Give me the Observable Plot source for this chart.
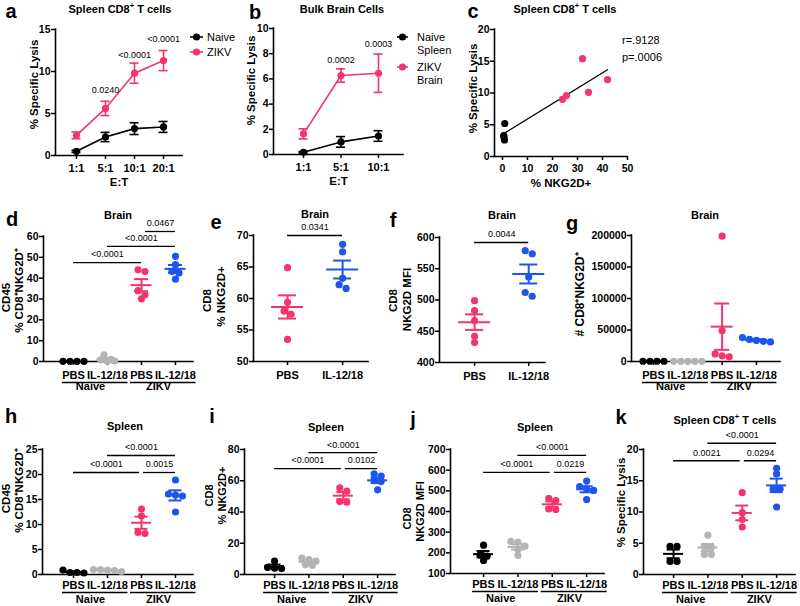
<!DOCTYPE html>
<html><head><meta charset="utf-8">
<script src="https://cdn.jsdelivr.net/npm/d3@7"></script>
<script src="https://cdn.jsdelivr.net/npm/@observablehq/plot@0.6"></script>
<style>
body{margin:0;background:#fff;}
#root{position:relative;width:800px;height:606px;overflow:hidden;font-family:'Liberation Sans',Arial,sans-serif;background:#fff;}
.t{position:absolute;font-weight:bold;font-size:11px;white-space:nowrap;transform:translate(-50%,-50%);line-height:1;}
.t sup{font-size:0.7em;line-height:0;vertical-align:0.55em;}
.L{position:absolute;font-weight:bold;font-size:20px;transform:translate(-50%,-50%);line-height:1.1;}
.lg{position:absolute;font-size:11px;white-space:nowrap;transform:translateY(-50%);line-height:1;}
.sw{position:absolute;overflow:visible;}
</style></head><body><div id="root"></div><script>
// ---------- data ----------
// a: Spleen CD8+ T cells, % specific lysis vs E:T
const etA = ["1:1","5:1","10:1","20:1"];
const aNaiveMean = [0.5,2.2,3.2,3.4];
const aNaiveSem = [0.12,0.55,0.7,0.65];
const aZikvMean = [2.4,5.6,9.8,11.3];
const aZikvSem = [0.4,0.85,1.2,1.2];
const aPText = ["0.0240","<0.0001","<0.0001"];
const aPAt = [2,3,4];
const aPLevel = [7.75,12.0,13.9];
// b: Bulk brain cells
const etB = ["1:1","5:1","10:1"];
const bNaiveMean = [0.18,1.0,1.47];
const bNaiveSem = [0.06,0.42,0.42];
const bZikvMean = [1.64,6.27,6.45];
const bZikvSem = [0.4,0.53,1.52];
const bPText = ["0.0002","0.0003"];
const bPAt = [2,3];
const bPLevel = [7.46,8.8];
// c: correlation
const cNaiveX = [0.9,0.5,0.8,0.6];
const cNaiveY = [5.2,3.3,2.6,3.0];
const cZikvX = [32,42,34.4,24,25.6];
const cZikvY = [15.4,12.1,10.1,9.0,9.6];
// category labels
const cat4 = ["PBS","IL-12/18","PBS","IL-12/18"];
const cat2 = ["PBS","IL-12/18"];
const infection = ["Naive","ZIKV"];
// d: Brain CD45 % CD8+NKG2D+
const dNaivePBS = [0.1,0.1,0.1,0.1];
const dNaiveIL = [3.2,1.0,0.8,0.3,0.2];
const dZikvPBS = [44,43.2,34,32,30.1];
const dZikvIL = [50.5,46.5,43.3,42.5,39.5];
const dSigText = ["<0.0001","<0.0001","0.0467"];
const dSigFrom = [1,2,3.12];
const dSigTo = [3,4,4];
const dSigLevel = [47.5,55.3,62.4];
// e: Brain CD8 % NKG2D+
const ePBS = [64.9,59.4,58.0,57.5,53.5];
const eIL = [68.6,67.4,63.2,62.2,61.6];
const eSigText = ["0.0341"];
const eSigFrom = [1]; const eSigTo = [2]; const eSigLevel = [70];
// f: Brain CD8 NKG2D MFI
const fPBS = [499,483,467,442,432];
const fIL = [579,574,537,512,506];
const fSigText = ["0.0044"];
const fSigFrom = [1]; const fSigTo = [2]; const fSigLevel = [592];
// g: Brain # CD8+NKG2D+
const gNaivePBS = [400,400,400,400];
const gNaiveIL = [300,300,300,300,300];
const gZikvPBS = [199000,49000,12000,9000,7500];
const gZikvIL = [38000,35000,33500,32000,31000];
// h: Spleen CD45 % CD8+NKG2D+
const hNaivePBS = [0.9,0.4,0.4,0.3];
const hNaiveIL = [1.0,1.0,0.9,0.8,0.6];
const hZikvPBS = [13.1,11.7,8.4,8.2];
const hZikvIL = [18.9,16.1,15.9,15.7,12.5];
const hSigText = ["<0.0001","0.0015","<0.0001"];
const hSigFrom = [1,3.06,2];
const hSigTo = [2.94,4,4];
const hSigLevel = [20.4,20.4,23.8];
// i: Spleen CD8 % NKG2D+
const iNaivePBS = [8.6,4.5,4.0,3.8];
const iNaiveIL = [10.5,9.5,8.5,6.2,5.8];
const iZikvPBS = [55.5,53.3,46.7,46.3];
const iZikvIL = [64.4,62.9,60.2,59.5,54.2];
const iSigText = ["<0.0001","0.0102","<0.0001"];
const iSigFrom = [1,3.06,2];
const iSigTo = [2.94,4,4];
const iSigLevel = [67.8,67.8,78];
// j: Spleen CD8 NKG2D MFI
const jNaivePBS = [237,190,184,163];
const jNaiveIL = [255,252,232,216,187];
const jZikvPBS = [464,453,412,410];
const jZikvIL = [547,521,510,502,458];
const jSigText = ["<0.0001","0.0219","<0.0001"];
const jSigFrom = [1,3.06,2];
const jSigTo = [2.94,4,4];
const jSigLevel = [589,589,672];
// k: Spleen CD8+ T cells % specific lysis
const kNaivePBS = [4.5,4.5,2.1,2.1];
const kNaiveIL = [6.3,4.5,4.4,3.2,3.2];
const kZikvPBS = [13.1,9.9,8.8,7.6];
const kZikvIL = [17.0,16.1,13.7,13.7,10.8];
const kSigText = ["0.0021","0.0294","<0.0001"];
const kSigFrom = [1,3.06,2];
const kSigTo = [2.94,4,4];
const kSigLevel = [18.2,18.2,21];

// ---------- drawing ----------
const W = 800, H = 606;
const FONT = "'Liberation Sans', Arial, sans-serif";
const PINK = "#f4346b", BLUE = "#1d55ee", GRAY = "#b4b4b4", BLACK = "#000000";
const root = document.getElementById("root");

function base(g, marks) {
  const p = Plot.plot({
    width: W, height: H,
    marginLeft: g.L, marginTop: g.T, marginRight: W - g.R, marginBottom: H - g.B,
    x: {type: "linear", domain: g.xdom},
    y: {type: "linear", domain: g.ydom},
    style: {fontFamily: FONT, fontSize: "11px", fontWeight: "bold", background: "transparent", overflow: "visible", color: "black"},
    marks
  });
  p.style.position = "absolute"; p.style.left = "0px"; p.style.top = "0px";
  root.appendChild(p);
}
function px(g) {
  return [(g.R - g.L) / (g.xdom[1] - g.xdom[0]), (g.B - g.T) / (g.ydom[1] - g.ydom[0])];
}
function axisLines(g) {
  return [
    Plot.ruleX([g.xdom[0]], {y1: g.ydom[0], y2: g.ydom[1], strokeWidth: 1.6, strokeLinecap: "square"}),
    Plot.ruleY([g.ydom[0]], {x1: g.xdom[0], x2: g.xdom[1], strokeWidth: 1.6, strokeLinecap: "square"})
  ];
}
function yAxis(ticks) {
  return Plot.axisY({ticks, tickSize: 4, tickPadding: 1, tickFormat: "d", label: null, strokeWidth: 1.5, fontSize: 10.5});
}
// rotated axis titles, placed through the panel's own scales
function yLabels(g, list) {
  const [pxX, pxY] = px(g);
  const rows = list.map(([t, cx, cy, fs]) => ({t, x: g.xdom[0] + (cx - g.L) / pxX, y: g.ydom[0] + (g.B - cy) / pxY, fs}));
  return rows.map(r => Plot.text([r], {x: "x", y: "y", text: "t", rotate: -90, fontSize: r.fs || 11, fontWeight: "bold"}));
}
function sigMarks(text, from, to, level) {
  const rows = text.map((t, i) => ({t, a: from[i], b: to[i], y: level[i]}));
  return [
    Plot.ruleY(rows, {y: "y", x1: "a", x2: "b", strokeWidth: 1.3}),
    Plot.text(rows, {x: d => (d.a + d.b) / 2, y: "y", text: "t", dy: -8, fontSize: 9, fontWeight: "normal"})
  ];
}
function swarm(vals, cat, pxX, pxY, sp) {
  const order = d3.range(vals.length).sort((a, b) => vals[b] - vals[a]);
  const rows = [];
  for (const i of order) {
    const r = rows[rows.length - 1];
    if (r && Math.abs(vals[r[0]] - vals[i]) * pxY < 5) r.push(i); else rows.push([i]);
  }
  const xs = [];
  for (const r of rows) r.forEach((i, k) => { xs[i] = cat + ((k - (r.length - 1) / 2) * sp) / pxX; });
  return vals.map((v, i) => ({x: xs[i], y: v}));
}
function catPanel(g) {
  const [pxX, pxY] = px(g);
  const n = g.groups.length;
  const labels = n === 4 ? cat4 : cat2;
  const colors = n === 4 ? [BLACK, GRAY, PINK, BLUE] : [PINK, BLUE];
  const marks = [...axisLines(g), yAxis(g.yticks),
    Plot.axisX({ticks: d3.range(1, n + 1), tickSize: 4, tickPadding: g.xpad, tickFormat: i => labels[i - 1], label: null, strokeWidth: 1.5})
  ];
  g.groups.forEach((vals, j) => {
    const cat = j + 1, col = colors[j];
    const mean = d3.mean(vals);
    const sem = vals.length > 1 ? d3.deviation(vals) / Math.sqrt(vals.length) : 0;
    marks.push(Plot.dot(swarm(vals, cat, pxX, pxY, 7), {x: "x", y: "y", r: 3.6, fill: col, stroke: null}));
    marks.push(Plot.ruleX([cat], {y1: mean - sem, y2: mean + sem, stroke: col, strokeWidth: 2}));
    marks.push(Plot.ruleY([mean - sem, mean + sem], {x1: cat - g.ch / pxX, x2: cat + g.ch / pxX, stroke: col, strokeWidth: 2}));
    marks.push(Plot.ruleY([mean], {x1: cat - g.mh / pxX, x2: cat + g.mh / pxX, stroke: col, strokeWidth: 2}));
  });
  if (g.sig) marks.push(...sigMarks(...g.sig));
  if (n === 4) {
    marks.push(Plot.ruleY([0, 1], {y: () => g.ydom[0], x1: i => i * 2 + 1 - 11 / pxX, x2: i => i * 2 + 2 + 20.5 / pxX, dy: g.ul, strokeWidth: 1.5}));
    marks.push(Plot.text(infection, {x: (d, i) => i * 2 + 1.5, frameAnchor: "bottom", dy: g.gl, text: d => d, fontSize: 11, fontWeight: "bold"}));
  }
  marks.push(...yLabels(g, g.ylab));
  base(g, marks);
}
function linePanel(g) {
  const [pxX] = px(g);
  const marks = [...axisLines(g), yAxis(g.yticks),
    Plot.axisX({ticks: d3.range(1, g.cats.length + 1), tickSize: 4, tickPadding: 5, tickFormat: i => g.cats[i - 1], label: null, strokeWidth: 1.5})
  ];
  g.series.forEach(([mean, sem, col]) => {
    const rows = mean.map((m, i) => ({x: i + 1, m, s: sem[i]}));
    marks.push(Plot.line(rows, {x: "x", y: "m", stroke: col, strokeWidth: 1.6}));
    marks.push(Plot.ruleX(rows, {x: "x", y1: d => d.m - d.s, y2: d => d.m + d.s, stroke: col, strokeWidth: 1.6}));
    marks.push(Plot.ruleY(rows, {y: d => d.m - d.s, x1: d => d.x - 4.5 / pxX, x2: d => d.x + 4.5 / pxX, stroke: col, strokeWidth: 1.6}));
    marks.push(Plot.ruleY(rows, {y: d => d.m + d.s, x1: d => d.x - 4.5 / pxX, x2: d => d.x + 4.5 / pxX, stroke: col, strokeWidth: 1.6}));
    marks.push(Plot.dot(rows, {x: "x", y: "m", r: 3.6, fill: col, stroke: null}));
  });
  const p = g.p[0].map((t, i) => ({t, x: g.p[1][i], y: g.p[2][i]}));
  marks.push(Plot.text(p, {x: "x", y: "y", text: "t", fontSize: 9, fontWeight: "normal"}));
  marks.push(Plot.text(["E:T"], {text: d => d, frameAnchor: "bottom", dy: 30, fontSize: 11.5, fontWeight: "bold"}));
  marks.push(...yLabels(g, g.ylab));
  base(g, marks);
}

// a
linePanel({L: 55, T: 29, R: 182, B: 155, xdom: [0.278, 4.653], ydom: [0, 15], yticks: [0, 5, 10, 15], cats: etA,
  series: [[aNaiveMean, aNaiveSem, BLACK], [aZikvMean, aZikvSem, PINK]], p: [aPText, aPAt, aPLevel],
  ylab: [["% Specific Lysis", 34, 84, 11.5]]});
// b
linePanel({L: 273, T: 28, R: 403, B: 154, xdom: [0.2, 3.667], ydom: [0, 10], yticks: [0, 2, 4, 6, 8, 10], cats: etB,
  series: [[bNaiveMean, bNaiveSem, BLACK], [bZikvMean, bZikvSem, PINK]], p: [bPText, bPAt, bPLevel],
  ylab: [["% Specific Lysis", 251, 80, 11.5]]});
// c
{
  const g = {L: 494, T: 29, R: 627, B: 156, xdom: [-3.2, 50], ydom: [0, 20]};
  const naive = cNaiveX.map((x, i) => ({x, y: cNaiveY[i]}));
  const zikv = cZikvX.map((x, i) => ({x, y: cZikvY[i]}));
  base(g, [...axisLines(g), yAxis([0, 5, 10, 15, 20]),
    Plot.axisX({ticks: [0, 10, 20, 30, 40, 50], tickSize: 4, tickPadding: 4, tickFormat: "d", label: null, strokeWidth: 1.5, fontSize: 10.5}),
    Plot.linearRegressionY(naive.concat(zikv), {x: "x", y: "y", stroke: BLACK, strokeWidth: 1.3, ci: 0}),
    Plot.dot(naive, {x: "x", y: "y", r: 3.6, fill: BLACK, stroke: null}),
    Plot.dot(zikv, {x: "x", y: "y", r: 3.6, fill: PINK, stroke: null}),
    Plot.text(["% NKG2D+"], {text: d => d, frameAnchor: "bottom", dy: 30, fontSize: 11.5, fontWeight: "bold"}),
    ...yLabels(g, [["% Specific Lysis", 473, 88, 11.5]])
  ]);
}
// d
catPanel({L: 43, T: 236, R: 193, B: 361, xdom: [0.118, 4.53], ydom: [0, 60], yticks: d3.range(0, 61, 10),
  groups: [dNaivePBS, dNaiveIL, dZikvPBS, dZikvIL], sig: [dSigText, dSigFrom, dSigTo, dSigLevel],
  xpad: 6, ul: 21, gl: 28, mh: 10.5, ch: 7, ylab: [["CD45", 5.5, 297, 11.5], ["% CD8⁺NKG2D⁺", 18.5, 290, 11.5]]});
// e
catPanel({L: 253, T: 235, R: 368, B: 361, xdom: [0.382, 2.47], ydom: [50, 70], yticks: d3.range(50, 71, 5),
  groups: [ePBS, eIL], sig: [eSigText, eSigFrom, eSigTo, eSigLevel],
  xpad: 6, mh: 16, ch: 9, ylab: [["CD8", 207, 300, 11.5], ["% NKG2D+", 221, 296, 11.5]]});
// f
catPanel({L: 439, T: 237, R: 545, B: 362, xdom: [0.352, 2.31], ydom: [400, 600], yticks: d3.range(400, 601, 50),
  groups: [fPBS, fIL], sig: [fSigText, fSigFrom, fSigTo, fSigLevel],
  xpad: 6, mh: 16, ch: 9, ylab: [["CD8", 393, 300, 11.5], ["NKG2D MFI", 407, 299, 11.5]]});
// g
catPanel({L: 631, T: 235, R: 780, B: 361, xdom: [0.36, 4.70], ydom: [0, 200000], yticks: d3.range(0, 200001, 50000),
  groups: [gNaivePBS, gNaiveIL, gZikvPBS, gZikvIL],
  xpad: 6, ul: 21, gl: 28, mh: 11, ch: 7.5, ylab: [["# CD8⁺NKG2D⁺", 580, 294, 12]]});
// h
catPanel({L: 42, T: 449, R: 193, B: 574, xdom: [0.088, 4.53], ydom: [0, 25], yticks: d3.range(0, 26, 5),
  groups: [hNaivePBS, hNaiveIL, hZikvPBS, hZikvIL], sig: [hSigText, hSigFrom, hSigTo, hSigLevel],
  xpad: 3, ul: 18, gl: 28, mh: 10, ch: 6.5, ylab: [["CD45", 5.5, 498, 11.5], ["% CD8⁺NKG2D⁺", 18.5, 490, 11.5]]});
// i
catPanel({L: 244, T: 449, R: 395, B: 574, xdom: [0.125, 4.52], ydom: [0, 80], yticks: d3.range(0, 81, 20),
  groups: [iNaivePBS, iNaiveIL, iZikvPBS, iZikvIL], sig: [iSigText, iSigFrom, iSigTo, iSigLevel],
  xpad: 3, ul: 18, gl: 28, mh: 10, ch: 6.5, ylab: [["CD8", 209, 495, 11], ["% NKG2D+", 221.5, 495, 11]]});
// j
catPanel({L: 450, T: 449, R: 604, B: 573, xdom: [0.038, 4.52], ydom: [100, 700], yticks: d3.range(100, 701, 100),
  groups: [jNaivePBS, jNaiveIL, jZikvPBS, jZikvIL], sig: [jSigText, jSigFrom, jSigTo, jSigLevel],
  xpad: 3, ul: 18, gl: 28, mh: 10, ch: 6.5, ylab: [["CD8", 407, 518, 11], ["NKG2D MFI", 420, 511, 11]]});
// k
catPanel({L: 643, T: 449, R: 795, B: 574, xdom: [0.125, 4.55], ydom: [0, 20], yticks: d3.range(0, 21, 5),
  groups: [kNaivePBS, kNaiveIL, kZikvPBS, kZikvIL], sig: [kSigText, kSigFrom, kSigTo, kSigLevel],
  xpad: 3, ul: 18, gl: 28, mh: 10, ch: 6.5, ylab: [["% Specific Lysis", 621, 502, 11.5]]});

// ---------- titles, letters, legends, annotations (HTML text) ----------
function html(cls, x, y, content) {
  const d = document.createElement("div");
  d.className = cls; d.style.left = x + "px"; d.style.top = y + "px"; d.innerHTML = content;
  root.appendChild(d);
}
const titles = [
  ["Spleen CD8<sup>+</sup> T cells", 120, 9], ["Bulk Brain Cells", 342, 9], ["Spleen CD8<sup>+</sup> T cells", 565, 9],
  ["Brain", 118, 215], ["Brain", 315, 214], ["Brain", 502, 215], ["Brain", 705, 215],
  ["Spleen", 125, 426], ["Spleen", 326, 427], ["Spleen", 535, 427], ["Spleen CD8<sup>+</sup> T cells", 725, 420]
];
titles.forEach(([t, x, y]) => html("t", x, y, t));
const letters = [["a", 11, 11], ["b", 255, 12], ["c", 473, 11], ["d", 12, 219], ["e", 216, 222], ["f", 393, 220],
  ["g", 572, 223], ["h", 11, 416], ["i", 212, 416], ["j", 413, 419], ["k", 621, 417]];
letters.forEach(([t, x, y]) => html("L", x, y, t));
function swatch(x1, x2, y, col) {
  const s = document.createElementNS("http://www.w3.org/2000/svg", "svg");
  s.setAttribute("class", "sw"); s.setAttribute("width", x2 - x1 + 8); s.setAttribute("height", 10);
  s.style.left = (x1 - 4) + "px"; s.style.top = (y - 5) + "px";
  const w = x2 - x1;
  s.innerHTML = `<line x1="4" x2="${w + 4}" y1="5" y2="5" stroke="${col}" stroke-width="1.6"/><circle cx="${w / 2 + 4}" cy="5" r="3.6" fill="${col}"/>`;
  root.appendChild(s);
}
swatch(190, 203, 37, BLACK); html("lg", 207, 37, "Naive");
swatch(190, 203, 52, PINK); html("lg", 207, 52, "ZIKV");
swatch(397, 408, 37, BLACK); html("lg", 417, 37, "Naive"); html("lg", 417, 50, "Spleen");
swatch(397, 408, 67, PINK); html("lg", 417, 67, "ZIKV"); html("lg", 417, 80, "Brain");
html("lg", 622, 40, "r=.9128"); html("lg", 622, 57, "p=.0006");
</script></body></html>
